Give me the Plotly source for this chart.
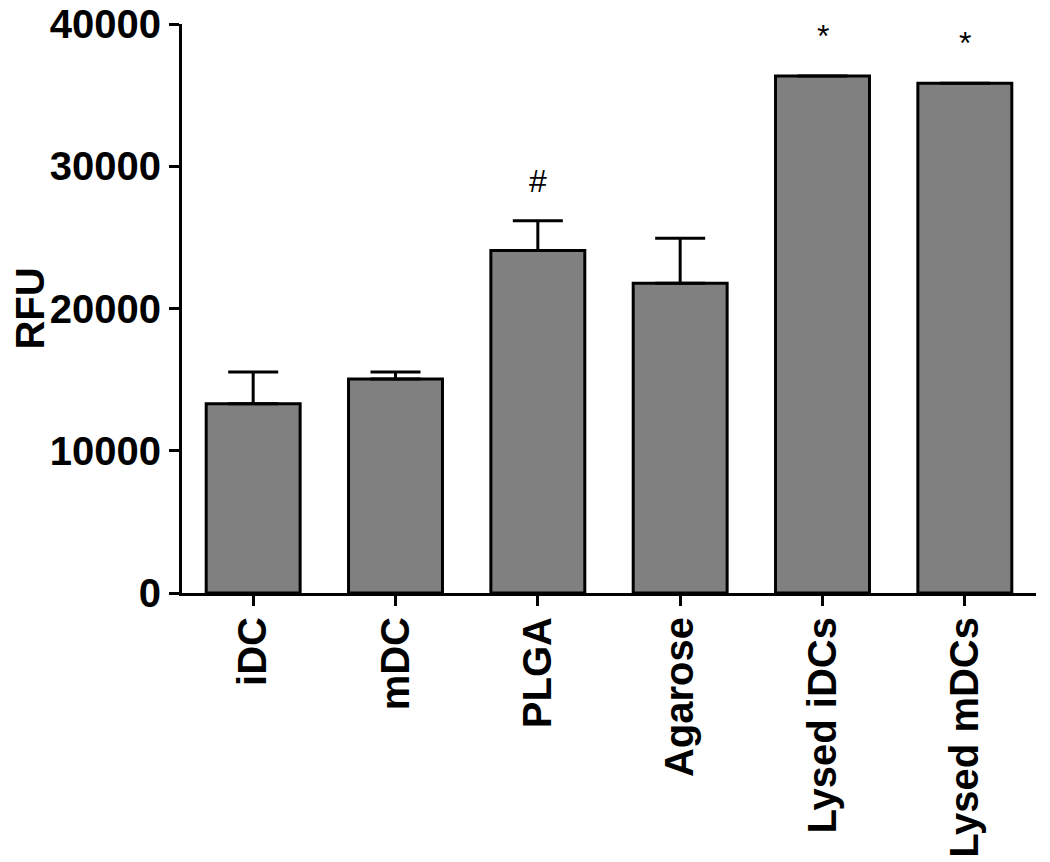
import plotly.graph_objects as go

groups = ['iDC', 'mDC', 'PLGA', 'Agarose', 'Lysed iDCs', 'Lysed mDCs']
rfu = [13300, 15040, 24070, 21780, 36340, 35830]
rfu_err = [2230, 490, 2090, 3160, 0, 0]
marks = ['', '', '#', '', '*', '*']
y_ticks = [0, 10000, 20000, 30000, 40000]

font = 'Liberation Sans, Arial, sans-serif'

fig = go.Figure()
fig.add_trace(go.Bar(
    x=groups,
    y=rfu,
    marker=dict(color='#808080', line=dict(color='black', width=3)),
    error_y=dict(type='data', symmetric=False, array=rfu_err,
                 arrayminus=[0] * len(rfu), color='black',
                 thickness=3, width=25),
    width=0.66,
))

# significance marks above the bars
for g, v, e, m in zip(groups, rfu, rfu_err, marks):
    if m:
        fig.add_annotation(x=g, y=v + e, text=m, showarrow=False,
                           yanchor='bottom', yshift=20,
                           font=dict(family=font, size=32, color='black'))

# page body adds an 8px offset, margins account for it
fig.update_layout(
    width=1050, height=862,
    margin=dict(l=174, r=22, t=16, b=277),
    plot_bgcolor='white', paper_bgcolor='white',
    showlegend=False,
    font=dict(family=font, color='black'),
)
fig.update_xaxes(
    range=[-0.5, 5.5], showline=True, linecolor='black', linewidth=3,
    ticks='outside', ticklen=10, tickwidth=2.5, tickcolor='black',
    tickangle=-90, tickfont=dict(family=font, size=40, color='black'),
    tickvals=groups, ticktext=['<b>%s</b>' % g for g in groups],
    ticklabelstandoff=-5, ticklabeloverflow='allow',
    showgrid=False, automargin=False,
)
fig.update_yaxes(
    range=[0, 40000], tickvals=y_ticks,
    ticktext=['<b>%d</b>' % t for t in y_ticks],
    showline=True, linecolor='black', linewidth=3,
    ticks='outside', ticklen=10, tickwidth=2.5, tickcolor='black',
    tickfont=dict(family=font, size=40, color='black'),
    ticklabeloverflow='allow',
    title=dict(text='<b>RFU</b>', font=dict(family=font, size=40, color='black'), standoff=10),
    showgrid=False, zeroline=False, automargin=False,
)

fig.write_html("out.html")
